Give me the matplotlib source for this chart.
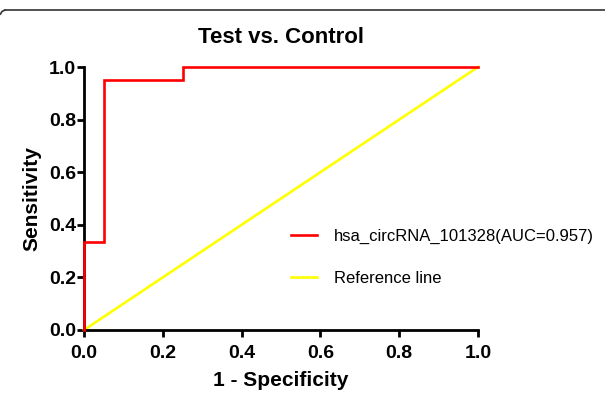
import matplotlib
matplotlib.use("Agg")
import matplotlib.pyplot as plt
from matplotlib.lines import Line2D

# Data
roc_fpr = [0.0, 0.0, 0.05, 0.05, 0.25, 0.25, 1.0]
roc_tpr = [0.0, 0.333, 0.333, 0.952, 0.952, 1.0, 1.0]
ref_x = [0.0, 1.0]
ref_y = [0.0, 1.0]
ticks = [0.0, 0.2, 0.4, 0.6, 0.8, 1.0]
tick_labels = ["0.0", "0.2", "0.4", "0.6", "0.8", "1.0"]
roc_label = "hsa_circRNA_101328(AUC=0.957)"
ref_label = "Reference line"

plt.rcParams['font.family'] = ['Liberation Sans', 'DejaVu Sans']

fig = plt.figure(figsize=(6.05, 3.96), dpi=100)
ax = fig.add_axes([84/605, 1-330/396, (478-84)/605, (330-67)/396])

# card border
W, H = 605, 396
fig.add_artist(Line2D([5/W, 1.0], [1-10/H, 1-10/H], color='#333333', lw=1.2, transform=fig.transFigure))
fig.add_artist(Line2D([0.5/W, 2/W, 5/W], [1-14/H, 1-11.5/H, 1-10/H], color='#333333', lw=1.2, transform=fig.transFigure))

ax.plot(roc_fpr, roc_tpr, color='#ff0000', lw=1.9, solid_joinstyle='miter', zorder=3, clip_on=False)
ax.plot(ref_x, ref_y, color='#ffff00', lw=1.9, zorder=2, clip_on=False)

ax.set_xlim(0, 1)
ax.set_ylim(0, 1)
ax.set_xticks(ticks)
ax.set_xticklabels(tick_labels)
ax.set_yticks(ticks)
ax.set_yticklabels(tick_labels)
for s in ['top', 'right']:
    ax.spines[s].set_visible(False)
for s in ['left', 'bottom']:
    ax.spines[s].set_linewidth(2.0)
    ax.spines[s].set_color('black')
ax.tick_params(direction='out', length=5, width=2.0, labelsize=14)
ax.tick_params(axis='x', pad=5.5)
ax.tick_params(axis='y', pad=0.8)
for lbl in ax.get_xticklabels() + ax.get_yticklabels():
    lbl.set_fontweight('bold')

ax.set_xlabel("1 - Specificity", fontsize=15, fontweight='bold', labelpad=7)
ax.set_ylabel("Sensitivity", fontsize=15, fontweight='bold', labelpad=5)
ax.set_title("Test vs. Control", fontsize=16, fontweight='bold', pad=17)

handles = [Line2D([], [], color='#ff0000', lw=1.9), Line2D([], [], color='#ffff00', lw=1.9)]
fig.legend(handles, [roc_label, ref_label], loc='center left',
           bbox_to_anchor=(284/605, 1-257.5/396), frameon=False, fontsize=12,
           handlelength=1.6, handletextpad=1.0, labelspacing=1.6,
           borderaxespad=0, borderpad=0.4)

fig.savefig("out.png", dpi=100)
